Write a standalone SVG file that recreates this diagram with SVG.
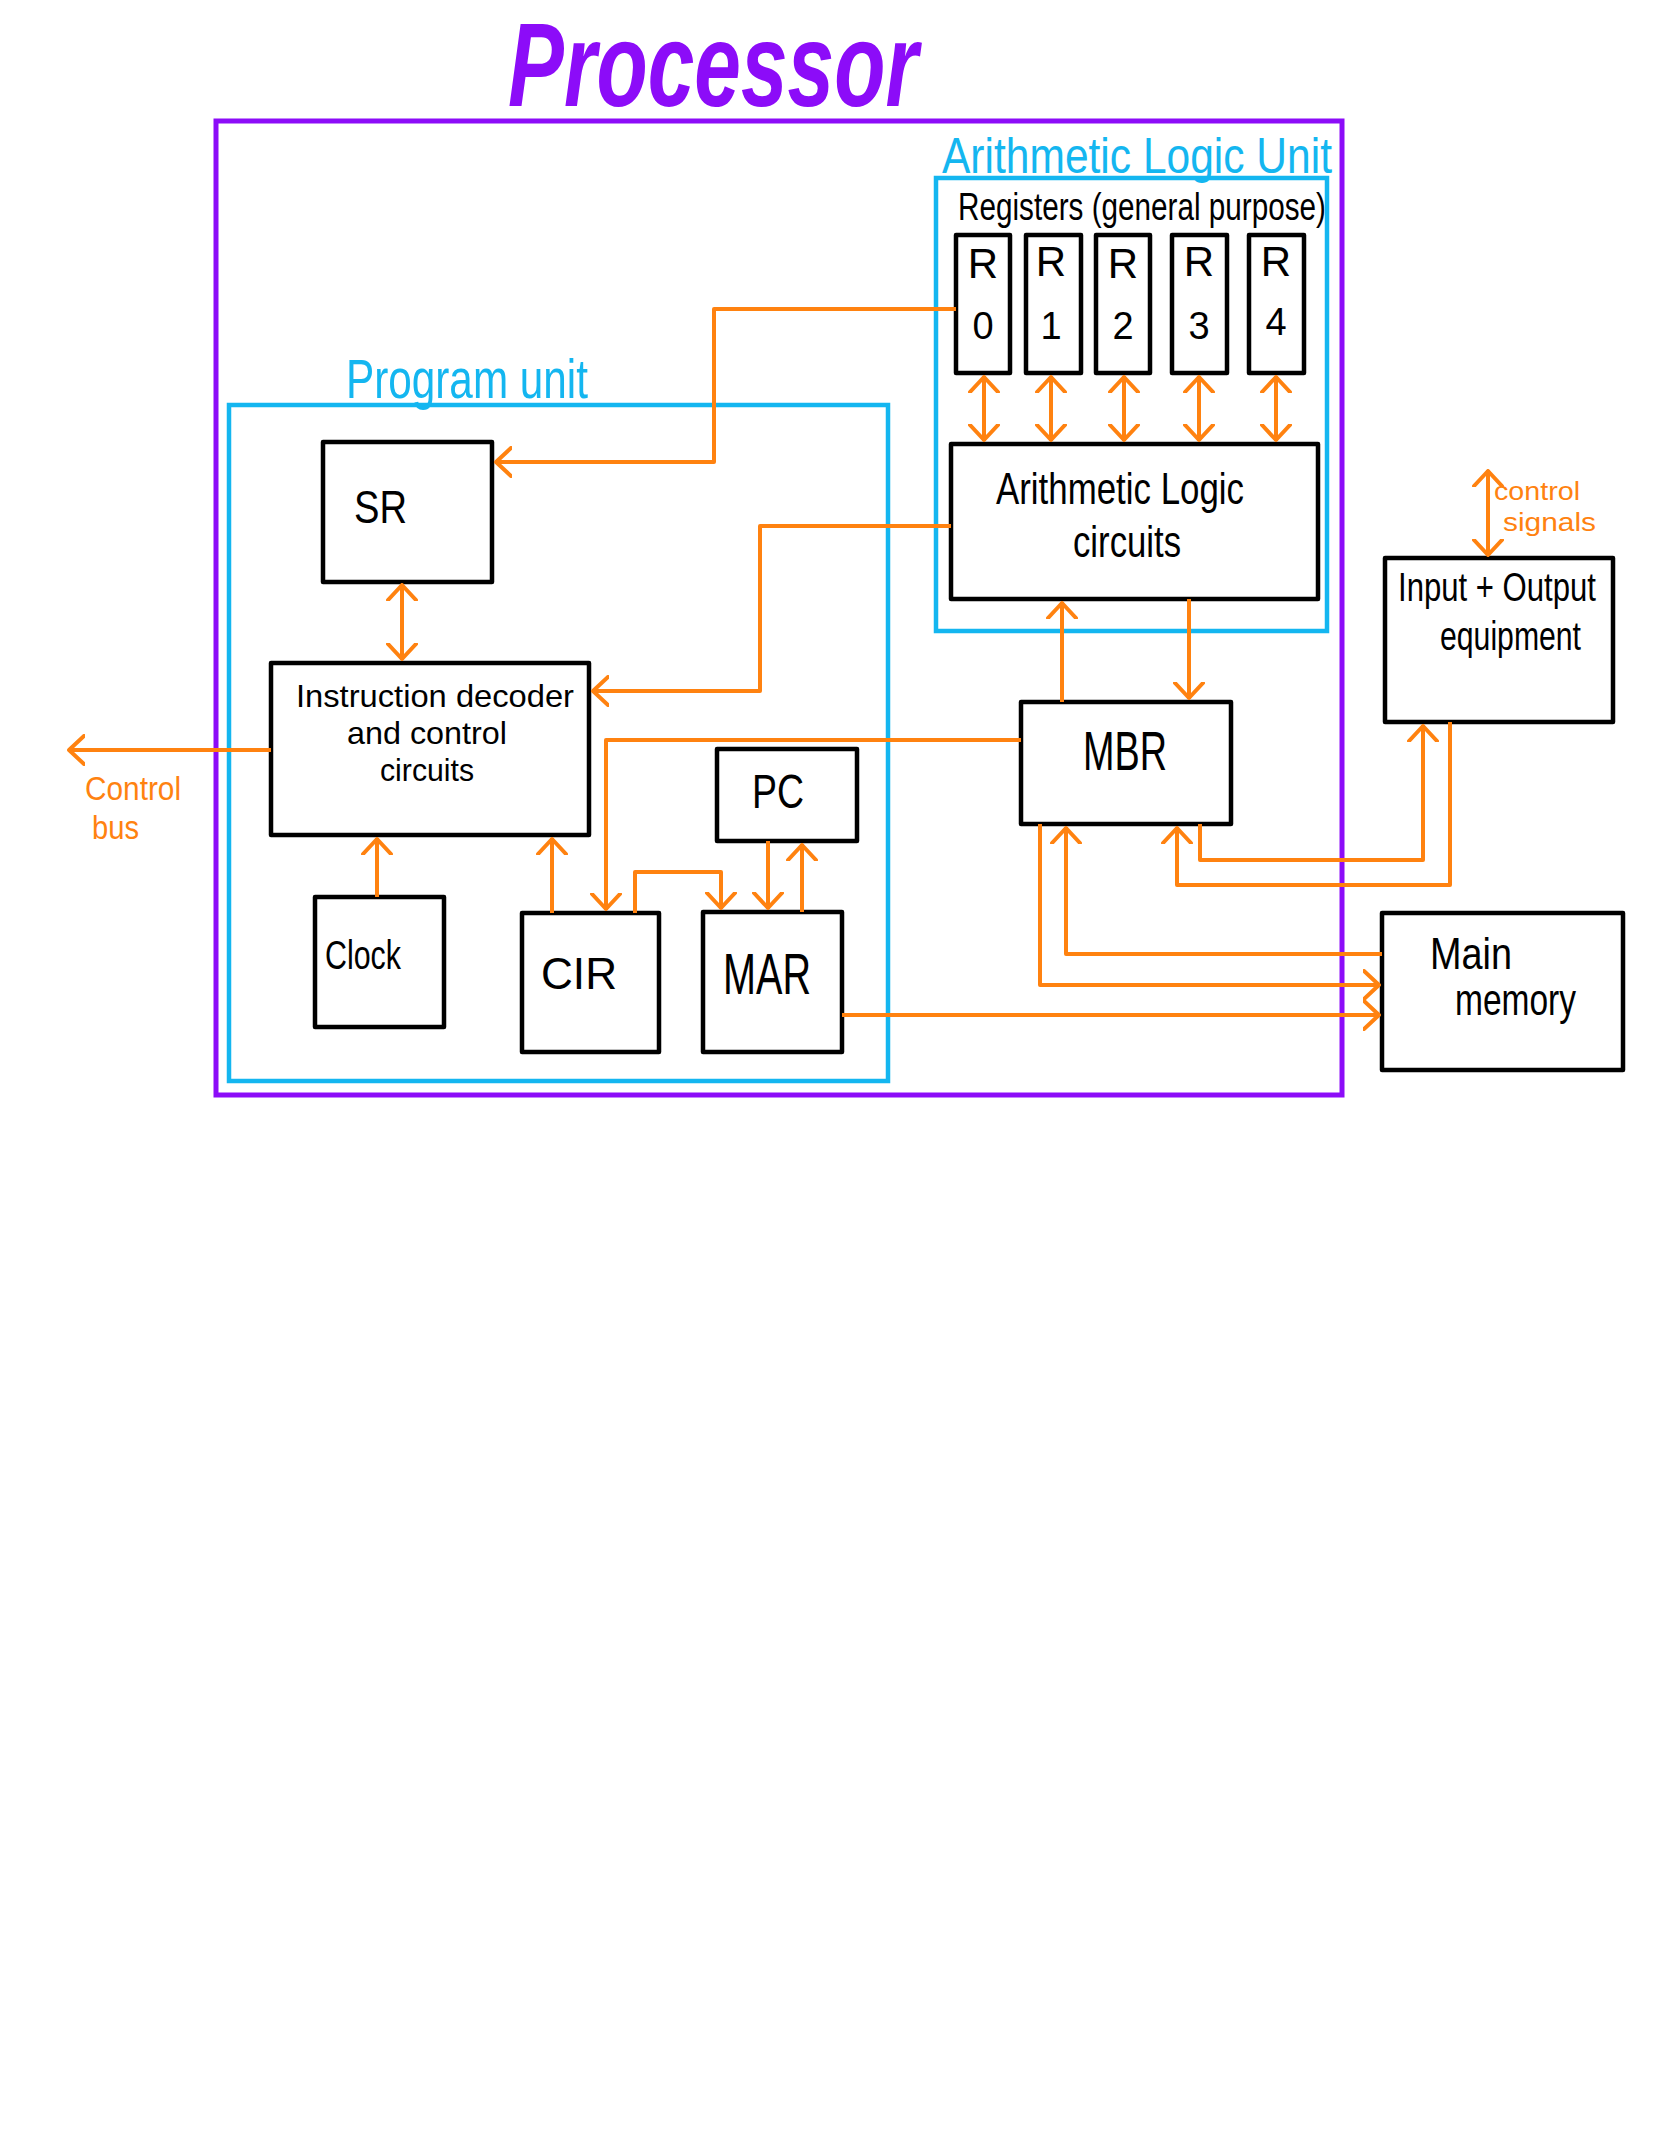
<svg xmlns="http://www.w3.org/2000/svg" width="1668" height="2154" viewBox="0 0 1668 2154">
<defs>
<marker id="ah" viewBox="0 0 18 32" refX="17" refY="16" markerWidth="18" markerHeight="32" markerUnits="userSpaceOnUse" orient="auto-start-reverse">
<path d="M1,2 L16,16 L1,30" fill="none" stroke="#ff8210" stroke-width="4" stroke-linecap="round" stroke-linejoin="round"/>
</marker>
<style>
.box{fill:none;stroke:#000;stroke-width:4.5;stroke-linejoin:round}
.blue{fill:none;stroke:#14b6f0;stroke-width:4.5}
.purple{fill:none;stroke:#8c0cf8;stroke-width:5}
.c{fill:none;stroke:#ff8210;stroke-width:4;stroke-linejoin:round}
.e{marker-end:url(#ah)}
.b{marker-start:url(#ah);marker-end:url(#ah)}
.t{font-family:"Liberation Sans",Arial,sans-serif;fill:#000}
.tb{font-family:"Liberation Sans",Arial,sans-serif;fill:#14b6f0}
.to{font-family:"Liberation Sans",Arial,sans-serif;fill:#ff8210}
</style>
</defs>
<rect width="1668" height="2154" fill="#fff"/>
<text x="508" y="106" font-family="Liberation Sans, Arial, sans-serif" font-size="118" font-weight="bold" font-style="italic" fill="#8c0cf8" textLength="410" lengthAdjust="spacingAndGlyphs">Processor</text>

<g id="processor"><rect class="purple" x="216" y="121" width="1126" height="974"/></g>

<g id="alu-unit">
<rect class="blue" x="936" y="178" width="391" height="453"/>
<text class="tb" x="942" y="173" font-size="50" textLength="390" lengthAdjust="spacingAndGlyphs">Arithmetic  Logic  Unit</text>
</g>

<g id="program-unit">
<rect class="blue" x="229" y="405" width="659" height="676"/>
<text class="tb" x="346" y="398" font-size="56" textLength="242" lengthAdjust="spacingAndGlyphs">Program unit</text>
</g>

<g id="registers">
<text class="t" x="958" y="220" font-size="38" textLength="368" lengthAdjust="spacingAndGlyphs">Registers (general purpose)</text>
</g>
<g id="r0"><rect class="box" x="956" y="235" width="54" height="138"/><text class="t" x="983" y="278" font-size="42" text-anchor="middle">R</text><text class="t" x="983" y="339" font-size="38" text-anchor="middle">0</text></g>
<g id="r1"><rect class="box" x="1026" y="235" width="55" height="138"/><text class="t" x="1051" y="276" font-size="42" text-anchor="middle">R</text><text class="t" x="1051" y="339" font-size="38" text-anchor="middle">1</text></g>
<g id="r2"><rect class="box" x="1096" y="235" width="54" height="138"/><text class="t" x="1123" y="278" font-size="42" text-anchor="middle">R</text><text class="t" x="1123" y="339" font-size="38" text-anchor="middle">2</text></g>
<g id="r3"><rect class="box" x="1172" y="235" width="55" height="138"/><text class="t" x="1199" y="276" font-size="42" text-anchor="middle">R</text><text class="t" x="1199" y="339" font-size="38" text-anchor="middle">3</text></g>
<g id="r4"><rect class="box" x="1249" y="235" width="55" height="138"/><text class="t" x="1276" y="276" font-size="42" text-anchor="middle">R</text><text class="t" x="1276" y="335" font-size="38" text-anchor="middle">4</text></g>

<g id="alu-circuits">
<rect class="box" x="951" y="444" width="367" height="155"/>
<text class="t" x="996" y="504" font-size="44" textLength="248" lengthAdjust="spacingAndGlyphs">Arithmetic Logic</text>
<text class="t" x="1073" y="557" font-size="44" textLength="108" lengthAdjust="spacingAndGlyphs">circuits</text>
</g>

<g id="sr"><rect class="box" x="323" y="442" width="169" height="140"/><text class="t" x="354" y="523" font-size="46" textLength="53" lengthAdjust="spacingAndGlyphs">SR</text></g>

<g id="id">
<rect class="box" x="271" y="663" width="318" height="172"/>
<text class="t" x="296" y="707" font-size="32" textLength="278" lengthAdjust="spacingAndGlyphs">Instruction decoder</text>
<text class="t" x="347" y="744" font-size="32" textLength="160" lengthAdjust="spacingAndGlyphs">and control</text>
<text class="t" x="380" y="781" font-size="32" textLength="94" lengthAdjust="spacingAndGlyphs">circuits</text>
</g>

<g id="clock"><rect class="box" x="315" y="897" width="129" height="130"/><text class="t" x="325" y="969" font-size="40" textLength="76" lengthAdjust="spacingAndGlyphs">Clock</text></g>
<g id="cir"><rect class="box" x="522" y="913" width="137" height="139"/><text class="t" x="541" y="989" font-size="44" textLength="76" lengthAdjust="spacingAndGlyphs">CIR</text></g>
<g id="mar"><rect class="box" x="703" y="912" width="139" height="140"/><text class="t" x="723" y="994" font-size="58" textLength="88" lengthAdjust="spacingAndGlyphs">MAR</text></g>
<g id="pc"><rect class="box" x="717" y="749" width="140" height="92"/><text class="t" x="752" y="808" font-size="48" textLength="52" lengthAdjust="spacingAndGlyphs">PC</text></g>

<g id="mbr"><rect class="box" x="1021" y="702" width="210" height="122"/><text class="t" x="1083" y="770" font-size="56" textLength="84" lengthAdjust="spacingAndGlyphs">MBR</text></g>

<g id="io">
<rect class="box" x="1385" y="558" width="228" height="164"/>
<text class="t" x="1398" y="601" font-size="40" textLength="198" lengthAdjust="spacingAndGlyphs">Input + Output</text>
<text class="t" x="1440" y="650" font-size="40" textLength="141" lengthAdjust="spacingAndGlyphs">equipment</text>
</g>

<g id="main-memory">
<rect class="box" x="1382" y="913" width="241" height="157"/>
<text class="t" x="1430" y="969" font-size="44" textLength="82" lengthAdjust="spacingAndGlyphs">Main</text>
<text class="t" x="1455" y="1015" font-size="44" textLength="121" lengthAdjust="spacingAndGlyphs">memory</text>
</g>

<g id="labels">
<text class="to" x="1494" y="500" font-size="26" textLength="86" lengthAdjust="spacingAndGlyphs">control</text>
<text class="to" x="1503" y="531" font-size="26" textLength="93" lengthAdjust="spacingAndGlyphs">signals</text>
<text class="to" x="85" y="800" font-size="34" textLength="96" lengthAdjust="spacingAndGlyphs">Control</text>
<text class="to" x="92" y="839" font-size="34" textLength="47" lengthAdjust="spacingAndGlyphs">bus</text>
</g>

<g id="connectors">
<path class="c e" d="M956,309 H714 V462 H495"/>
<path class="c e" d="M951,526 H760 V691 H592"/>
<path class="c b" d="M402,584 V660"/>
<path class="c e" d="M377,897 V838"/>
<path class="c e" d="M552,913 V838"/>
<path class="c e" d="M1021,740 H606 V910"/>
<path class="c e" d="M635,913 V872 H721 V909"/>
<path class="c e" d="M768,841 V909"/>
<path class="c e" d="M802,912 V844"/>
<path class="c b" d="M984,376 V441"/>
<path class="c b" d="M1051,376 V441"/>
<path class="c b" d="M1124,376 V441"/>
<path class="c b" d="M1199,376 V441"/>
<path class="c b" d="M1276,376 V441"/>
<path class="c e" d="M1062,702 V602"/>
<path class="c e" d="M1189,599 V699"/>
<path class="c e" d="M1200,824 V860 H1423 V725"/>
<path class="c e" d="M1450,722 V885 H1177 V827"/>
<path class="c e" d="M1382,954 H1066 V827"/>
<path class="c e" d="M1040,824 V985 H1380"/>
<path class="c e" d="M842,1015 H1380"/>
<path class="c b" d="M1488,470 V556"/>
<path class="c e" d="M271,750 H68"/>
</g>
</svg>
